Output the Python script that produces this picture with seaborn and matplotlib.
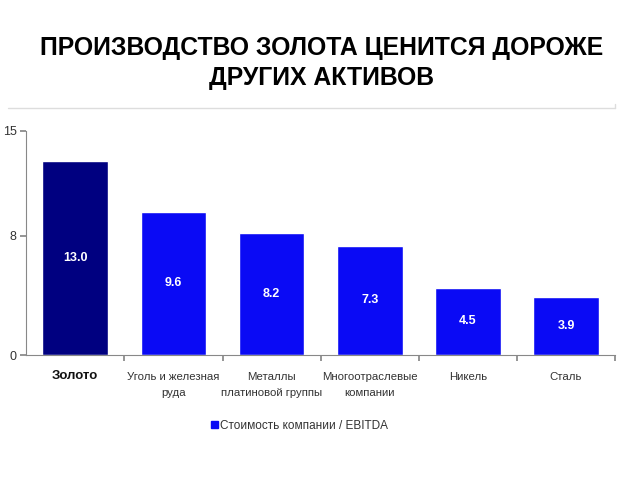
import matplotlib
matplotlib.use("Agg")
import matplotlib.pyplot as plt
import matplotlib.lines as mlines
import matplotlib.patches as mpatches
import pandas as pd
import seaborn as sns

categories = ["Золото", "Уголь и железная\nруда", "Металлы\nплатиновой группы",
              "Многоотраслевые\nкомпании", "Никель", "Сталь"]
values = [13.0, 9.6, 8.2, 7.3, 4.5, 3.9]
bar_colors = ["#000080", "#0A0AF5", "#0A0AF5", "#0A0AF5", "#0A0AF5", "#0A0AF5"]
y_ticks = [0, 8, 15]
title = "ПРОИЗВОДСТВО ЗОЛОТА ЦЕНИТСЯ ДОРОЖЕ\nДРУГИХ АКТИВОВ"
legend_label = "Стоимость компании / EBITDA"

sns.set_theme(style="white")
plt.rcParams["font.family"] = ["Liberation Sans", "DejaVu Sans"]

data = pd.DataFrame({"category": categories, "value": values})

fig = plt.figure(figsize=(6.4, 4.8), dpi=100)
ax = fig.add_axes([0.041, 0.2604, 0.92, 0.4667])

sns.barplot(data=data, x="category", y="value", hue="category",
            palette=bar_colors, width=0.67, saturation=1, legend=False, ax=ax)

ax.set_ylim(0, 15)
ax.set_xlim(-0.5, len(categories) - 0.5)
ax.set_yticks(y_ticks)
ax.set_yticklabels([str(t) for t in y_ticks], fontsize=9, color="#333333")
ax.set_xlabel("")
ax.set_ylabel("")

# category separators as ticks below the axis
ax.set_xticks([i + 0.5 for i in range(len(categories))])
ax.set_xticklabels([])
ax.tick_params(axis="x", bottom=True, length=4, color="#888888", direction="out")
ax.tick_params(axis="y", left=True, length=4, color="#888888", direction="out", pad=3)

for i, cat in enumerate(categories):
    if i == 0:
        ax.text(i, -1.0, cat, ha="center", va="top", fontsize=9.5,
                fontweight="bold", color="#111111")
    else:
        ax.text(i, -1.15, cat, ha="center", va="top", fontsize=8.2,
                color="#333333", linespacing=1.7)

for i, v in enumerate(values):
    ax.text(i, v / 2, f"{v:.1f}", ha="center", va="center", fontsize=9,
            fontweight="bold", color="white")

for side in ["top", "right"]:
    ax.spines[side].set_visible(False)
for side in ["left", "bottom"]:
    ax.spines[side].set_color("#888888")
    ax.spines[side].set_linewidth(0.8)

fig.text(0.502, 0.869, title, ha="center", va="center", fontsize=17.8,
         fontweight="bold", color="black", linespacing=1.3)

# thin separator line under the title
fig.add_artist(mlines.Line2D([0.012, 0.961], [0.775, 0.775], color="#dddddd", lw=1))
fig.add_artist(mlines.Line2D([0.961, 0.961], [0.775, 0.783], color="#dddddd", lw=1))

handle = mpatches.Patch(color="#0A0AF5", label=legend_label)
fig.legend(handles=[handle], loc="center", bbox_to_anchor=(0.468, 0.113),
           frameon=False, fontsize=8.5, handlelength=0.6, handleheight=0.6,
           handletextpad=0.2, labelcolor="#333333")

fig.savefig("out.png", dpi=100)
